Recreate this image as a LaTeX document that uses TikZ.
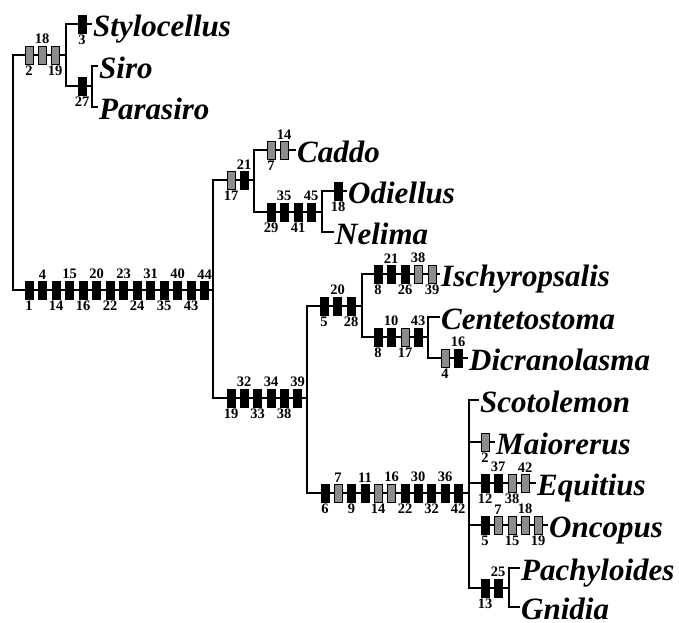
\documentclass[tikz,border=0pt]{standalone}
\usepackage{fontspec}
\setmainfont{Liberation Serif}
\definecolor{gr}{RGB}{140,140,140}
\colorlet{bk}{black}
\newcommand\cb[6]{\node[cbar,fill=#4,label={[lab]#5:#6}] (#1) at (#2,#3) {};}
\begin{document}
\begin{tikzpicture}[x=1pt,y=-1pt,
  br/.style={line width=1.4pt},
  cbar/.style={draw=black,line width=0.6pt,minimum width=8pt,minimum height=18pt,inner sep=0pt},
  lab/.style={font=\fontsize{14.5}{15}\selectfont\bfseries,inner sep=0pt},
  taxon/.style={anchor=west,font=\fontsize{31}{31}\selectfont\bfseries\itshape,inner xsep=1pt,inner ysep=0pt,text height=24pt,text depth=0pt},
  label distance=1.5pt]
\useasboundingbox (0,0) rectangle (679,622);
% junctions
\coordinate (root) at (13,172);
\coordinate (jA) at (66,55);
\coordinate (jB) at (92,86);
\coordinate (jM) at (213,290);
\coordinate (jC) at (254,180);
\coordinate (jD) at (322,212);
\coordinate (jE) at (307,398);
\coordinate (jF) at (362,306);
\coordinate (jG) at (428,337);
\coordinate (jH) at (469,493);
\coordinate (jI) at (509,588);
% taxa
\node[taxon] (stylo) at (92,24) {Stylocellus};
\node[taxon] (siro) at (98,66) {Siro};
\node[taxon] (paras) at (98,107) {Parasiro};
\node[taxon] (caddo) at (296,150) {Caddo};
\node[taxon] (odiel) at (347,191) {Odiellus};
\node[taxon] (nelim) at (334,232) {Nelima};
\node[taxon] (ischy) at (440,274) {Ischyropsalis};
\node[taxon] (cente) at (440,317) {Centetostoma};
\node[taxon] (dicra) at (468,358) {Dicranolasma};
\node[taxon] (scoto) at (479,400) {Scotolemon};
\node[taxon] (maior) at (495,442) {Maiorerus};
\node[taxon] (equit) at (536,483) {Equitius};
\node[taxon] (oncop) at (548,525) {Oncopus};
\node[taxon] (pachy) at (520,568) {Pachyloides};
\node[taxon] (gnidi) at (520,607) {Gnidia};
% branches
\draw[br] (root) |- (jA);
\draw[br] (root) |- (jM);
\draw[br] (jA) |- (stylo.west);
\draw[br] (jA) |- (jB);
\draw[br] (jB) |- (siro.west);
\draw[br] (jB) |- (paras.west);
\draw[br] (jM) |- (jC);
\draw[br] (jM) |- (jE);
\draw[br] (jC) |- (caddo.west);
\draw[br] (jC) |- (jD);
\draw[br] (jD) |- (odiel.west);
\draw[br] (jD) |- (nelim.west);
\draw[br] (jE) |- (jF);
\draw[br] (jE) |- (jH);
\draw[br] (jF) |- (ischy.west);
\draw[br] (jF) |- (jG);
\draw[br] (jG) |- (cente.west);
\draw[br] (jG) |- (dicra.west);
\draw[br] (jH) |- (scoto.west);
\draw[br] (jH) |- (maior.west);
\draw[br] (jH) |- (equit.west);
\draw[br] (jH) |- (oncop.west);
\draw[br] (jH) |- (jI);
\draw[br] (jI) |- (pachy.west);
\draw[br] (jI) |- (gnidi.west);
% characters: Cyphophthalmi
\cb{a1}{29}{55}{gr}{below}{2}
\cb{a2}{42}{55}{gr}{above}{18}
\cb{a3}{55}{55}{gr}{below}{19}
\cb{s1}{82}{24}{bk}{below}{3}
\cb{sp1}{82}{86}{bk}{below}{27}
% main stem
\cb{m1}{29}{290}{bk}{below}{1}
\cb{m2}{42.5}{290}{bk}{above}{4}
\cb{m3}{56}{290}{bk}{below}{14}
\cb{m4}{69.5}{290}{bk}{above}{15}
\cb{m5}{83}{290}{bk}{below}{16}
\cb{m6}{96.5}{290}{bk}{above}{20}
\cb{m7}{110}{290}{bk}{below}{22}
\cb{m8}{123.5}{290}{bk}{above}{23}
\cb{m9}{137}{290}{bk}{below}{24}
\cb{m10}{150.5}{290}{bk}{above}{31}
\cb{m11}{164}{290}{bk}{below}{35}
\cb{m12}{177.5}{290}{bk}{above}{40}
\cb{m13}{191}{290}{bk}{below}{43}
\cb{m14}{204.5}{290}{bk}{above}{44}
% upper clade
\cb{c1}{231}{180}{gr}{below}{17}
\cb{c2}{244}{180}{bk}{above}{21}
\cb{cd1}{271}{150}{gr}{below}{7}
\cb{cd2}{284}{150}{gr}{above}{14}
\cb{d1}{271}{212}{bk}{below}{29}
\cb{d2}{284}{212}{bk}{above}{35}
\cb{d3}{298}{212}{bk}{below}{41}
\cb{d4}{311}{212}{bk}{above}{45}
\cb{o1}{338}{191}{bk}{below}{18}
% lower clade stem
\cb{e1}{231}{398}{bk}{below}{19}
\cb{e2}{244}{398}{bk}{above}{32}
\cb{e3}{257.5}{398}{bk}{below}{33}
\cb{e4}{271}{398}{bk}{above}{34}
\cb{e5}{284}{398}{bk}{below}{38}
\cb{e6}{297.5}{398}{bk}{above}{39}
% Ischyropsalidoidea
\cb{f1}{324}{306}{bk}{below}{5}
\cb{f2}{337.5}{306}{bk}{above}{20}
\cb{f3}{351}{306}{bk}{below}{28}
\cb{i1}{378}{274}{bk}{below}{8}
\cb{i2}{391}{274}{bk}{above}{21}
\cb{i3}{405}{274}{bk}{below}{26}
\cb{i4}{418}{274}{gr}{above}{38}
\cb{i5}{432}{274}{gr}{below}{39}
\cb{g1}{378}{337}{bk}{below}{8}
\cb{g2}{391}{337}{bk}{above}{10}
\cb{g3}{405}{337}{gr}{below}{17}
\cb{g4}{418}{337}{bk}{above}{43}
\cb{dc1}{445}{358}{gr}{below}{4}
\cb{dc2}{458}{358}{bk}{above}{16}
% Phalangioidea stem
\cb{h1}{325}{493}{bk}{below}{6}
\cb{h2}{338}{493}{gr}{above}{7}
\cb{h3}{351.5}{493}{bk}{below}{9}
\cb{h4}{365}{493}{bk}{above}{11}
\cb{h5}{378}{493}{gr}{below}{14}
\cb{h6}{391.5}{493}{gr}{above}{16}
\cb{h7}{405}{493}{bk}{below}{22}
\cb{h8}{418}{493}{bk}{above}{30}
\cb{h9}{431.5}{493}{bk}{below}{32}
\cb{h10}{445}{493}{bk}{above}{36}
\cb{h11}{458}{493}{bk}{below}{42}
% terminal taxa
\cb{ma1}{485}{442}{gr}{below}{2}
\cb{q1}{485}{483}{bk}{below}{12}
\cb{q2}{498}{483}{bk}{above}{37}
\cb{q3}{512}{483}{gr}{below}{38}
\cb{q4}{525}{483}{gr}{above}{42}
\cb{n1}{485}{525}{bk}{below}{5}
\cb{n2}{498}{525}{gr}{above}{7}
\cb{n3}{512}{525}{gr}{below}{15}
\cb{n4}{525}{525}{gr}{above}{18}
\cb{n5}{538}{525}{gr}{below}{19}
\cb{p1}{485}{588}{bk}{below}{13}
\cb{p2}{498}{588}{bk}{above}{25}
\end{tikzpicture}
\end{document}
